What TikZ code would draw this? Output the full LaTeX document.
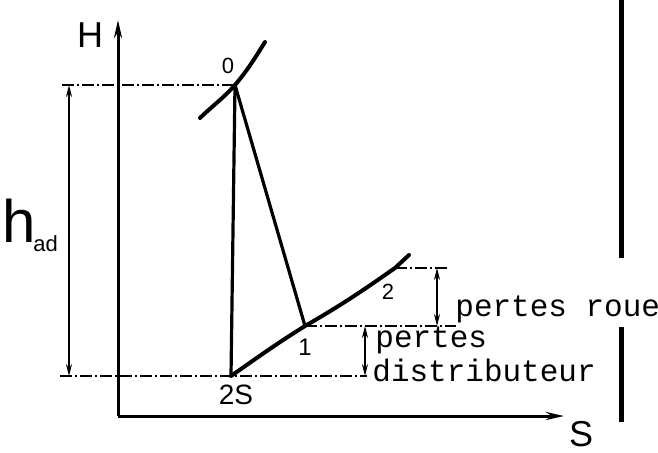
\documentclass[tikz,border=0pt]{standalone}
\usepackage{fontspec}
\setsansfont{Liberation Sans}
\setmonofont{Liberation Mono}
\usetikzlibrary{positioning,arrows.meta}

\begin{document}
\begin{tikzpicture}[
  x=0.5pt, y=-0.5pt,
  axis/.style={line width=1.5pt, -{Stealth[length=9pt,width=4pt]}},
  proc/.style={line width=1.6pt},
  curve/.style={line width=2pt, line cap=round},
  guide/.style={line width=0.6pt, dash pattern=on 6pt off 1.5pt on 1pt off 1.5pt},
  dim/.style={line width=0.8pt, {Stealth[length=6pt,width=3pt]}-{Stealth[length=6pt,width=3pt]}},
  hand/.style={font=\sffamily\fontsize{#1}{#1}\selectfont, inner sep=0pt},
  tt/.style={font=\ttfamily\fontsize{15.5}{15.5}\selectfont, inner sep=0pt, anchor=base west}
]
  \useasboundingbox (0,0) rectangle (658,452);

  % Axes
  \coordinate (O) at (118,416);
  \coordinate (Htop) at (118,20);
  \coordinate (Send) at (564,416);
  \draw[axis] (O) -- (Htop);
  \draw[axis] (O) -- (Send);
  \node[hand=18] (H) at (90,35) {H};
  \node[hand=18] (S) at (581,434) {S};

  % States
  \coordinate (p0) at (235,85);
  \coordinate (p1) at (305,326);
  \coordinate (p2s) at (231,376);
  \coordinate (p2) at (395,268);
  \coordinate (isoA) at (200,118);
  \coordinate (isoB) at (265,42);
  \coordinate (isoC) at (409,255);

  % Isobars
  \draw[curve] (isoA) to[out=44,in=-132] (p0) to[out=50,in=-122] (isoB);
  \draw[curve] (p2s) to[out=35,in=-148] (p1) to[out=30,in=-145] (p2) -- (isoC);

  % Expansions
  \draw[proc] (p0) -- (p2s);
  \draw[proc] (p0) -- (p1);

  % Guide lines
  \coordinate (gTop) at (62,85);
  \coordinate (gBot) at (60,376);
  \coordinate (gBotR) at (367,376);
  \coordinate (g1R) at (456,326);
  \coordinate (g2R) at (448,268);
  \draw[guide] (gTop) -- (p0);
  \draw[guide] (gBot) -- (gBotR);
  \draw[guide] (p1) -- (g1R);
  \draw[guide] (p2) -- (g2R);

  % Enthalpy drops
  \coordinate (hT) at (69,85);
  \coordinate (hB) at (69,376);
  \coordinate (rT) at (437,268);
  \coordinate (rB) at (437,326);
  \coordinate (dT) at (365,326);
  \coordinate (dB) at (365,376);
  \draw[dim] (hB) -- (hT);
  \draw[dim] (rB) -- (rT);
  \draw[dim] (dB) -- (dT);

  % Labels
  \node[hand=11] (l0) at (228,66) {0};
  \node[hand=12] (l1) at (305,347) {1};
  \node[hand=11] (l2) at (388,292) {2};
  \node[hand=14] (l2s) at (236,395) {2S};
  \node[hand=30] (lh) at (19,221) {h};
  \node[hand=11, anchor=west] (lad) at (33,244) {ad};
  \node[tt] (lroue) at (455,316) {pertes roue};
  \node[tt] (lpd) at (375,347) {pertes};
  \node[tt] (ldist) at (372,381) {distributeur};

  % Margin bar
  \coordinate (bA) at (621,0);
  \coordinate (bB) at (621,258);
  \coordinate (bC) at (621,327);
  \coordinate (bD) at (621,422);
  \draw[line width=2.5pt] (bA) -- (bB);
  \draw[line width=2.5pt] (bC) -- (bD);
\end{tikzpicture}
\end{document}
